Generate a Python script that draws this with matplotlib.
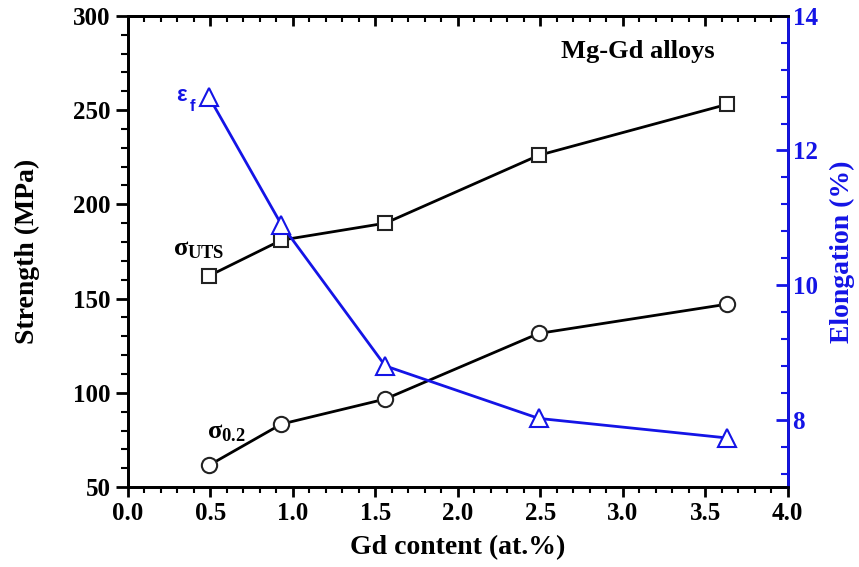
import numpy as np
import matplotlib
matplotlib.use('Agg')
import matplotlib.pyplot as plt
from matplotlib.ticker import MultipleLocator

plt.rcParams['font.family'] = 'Liberation Serif'
plt.rcParams['font.weight'] = 'bold'
plt.rcParams['mathtext.fontset'] = 'custom'
plt.rcParams['mathtext.rm'] = 'Liberation Serif'
plt.rcParams['mathtext.bf'] = 'Liberation Serif:bold'
plt.rcParams['mathtext.it'] = 'Liberation Serif:italic'

# data
gd = [0.49, 0.93, 1.56, 2.49, 3.63]
uts = [162, 181, 190, 226, 253]
ys = [61.5, 83.4, 96.7, 131.5, 147]
elong = [12.8, 10.9, 8.8, 8.02, 7.73]

blue = '#1414e6'

fig = plt.figure(figsize=(8.59, 5.67), dpi=100)
ax = fig.add_axes([0.149, 0.141, 0.768, 0.831])
ax2 = ax.twinx()

ax.plot(gd, uts, color='black', lw=2, marker='s', ms=9.5, mfc='white', mec='#222222', mew=1.5, zorder=3)
ax.plot(gd, ys, color='black', lw=2, marker='o', ms=11, mfc='white', mec='#222222', mew=1.5, zorder=3)
ax2.plot(gd, elong, color=blue, lw=2, marker='^', ms=12.5, mfc='white', mec=blue, mew=1.5, zorder=3)

ax.set_xlim(0, 4.0)
ax.set_ylim(50, 300)
ax2.set_ylim(7, 14)

ax.xaxis.set_major_locator(MultipleLocator(0.5))
ax.xaxis.set_minor_locator(MultipleLocator(0.1))
ax.yaxis.set_major_locator(MultipleLocator(50))
ax.yaxis.set_minor_locator(MultipleLocator(10))
ax2.yaxis.set_major_locator(MultipleLocator(2))
ax2.yaxis.set_minor_locator(MultipleLocator(0.4))
ax.xaxis.set_major_formatter(plt.FormatStrFormatter('%.1f'))

for a in (ax, ax2):
    for s in a.spines.values():
        s.set_linewidth(2)
ax2.spines['right'].set_color(blue)

ax.tick_params(axis='x', which='both', bottom=True, top=False, direction='out', width=2, labelsize=18, pad=4)
ax.tick_params(axis='x', which='major', length=7)
ax.tick_params(axis='x', which='minor', length=4, width=1.5)
ax.tick_params(axis='y', which='both', direction='out', width=2, labelsize=18)
ax.tick_params(axis='y', which='major', length=9)
ax.tick_params(axis='y', which='minor', length=5, width=1.5)
ax2.tick_params(axis='y', which='both', direction='in', color=blue, labelcolor=blue, width=2, labelsize=18)
ax2.tick_params(axis='y', which='major', length=9)
ax2.tick_params(axis='y', which='minor', length=5, width=1.5)

# top ticks pointing inward
top = ax.secondary_xaxis('top')
top.xaxis.set_major_locator(MultipleLocator(0.5))
top.xaxis.set_minor_locator(MultipleLocator(0.1))
top.tick_params(which='both', direction='in', width=2, labeltop=False)
top.tick_params(which='major', length=7)
top.tick_params(which='minor', length=4, width=1.5)
top.spines['top'].set_linewidth(2)

ax.set_xlabel('Gd content (at.%)', fontsize=20, fontweight='bold', labelpad=7)
ax.set_ylabel('Strength (MPa)', fontsize=20, fontweight='bold', labelpad=24)
ax2.set_ylabel('Elongation (%)', fontsize=20, fontweight='bold', color=blue, labelpad=9)

ax.text(3.09, 281, 'Mg-Gd alloys', fontsize=19, fontweight='bold', ha='center', va='center')
ax.text(0.27, 176, r'$\mathrm{σ}_{\mathbf{UTS}}$', fontsize=19, ha='left', va='center')
ax.text(0.48, 79, r'$\mathrm{σ}_{\mathbf{0.2}}$', fontsize=19, ha='left', va='center')
ax.text(0.29, 258, 'ε', fontsize=16, fontweight='bold', color=blue, family='Liberation Sans', ha='left', va='center')
ax.text(0.375, 252, 'f', fontsize=12, fontweight='bold', color=blue, family='Liberation Sans', ha='left', va='center')

fig.savefig('out.png', dpi=100)
